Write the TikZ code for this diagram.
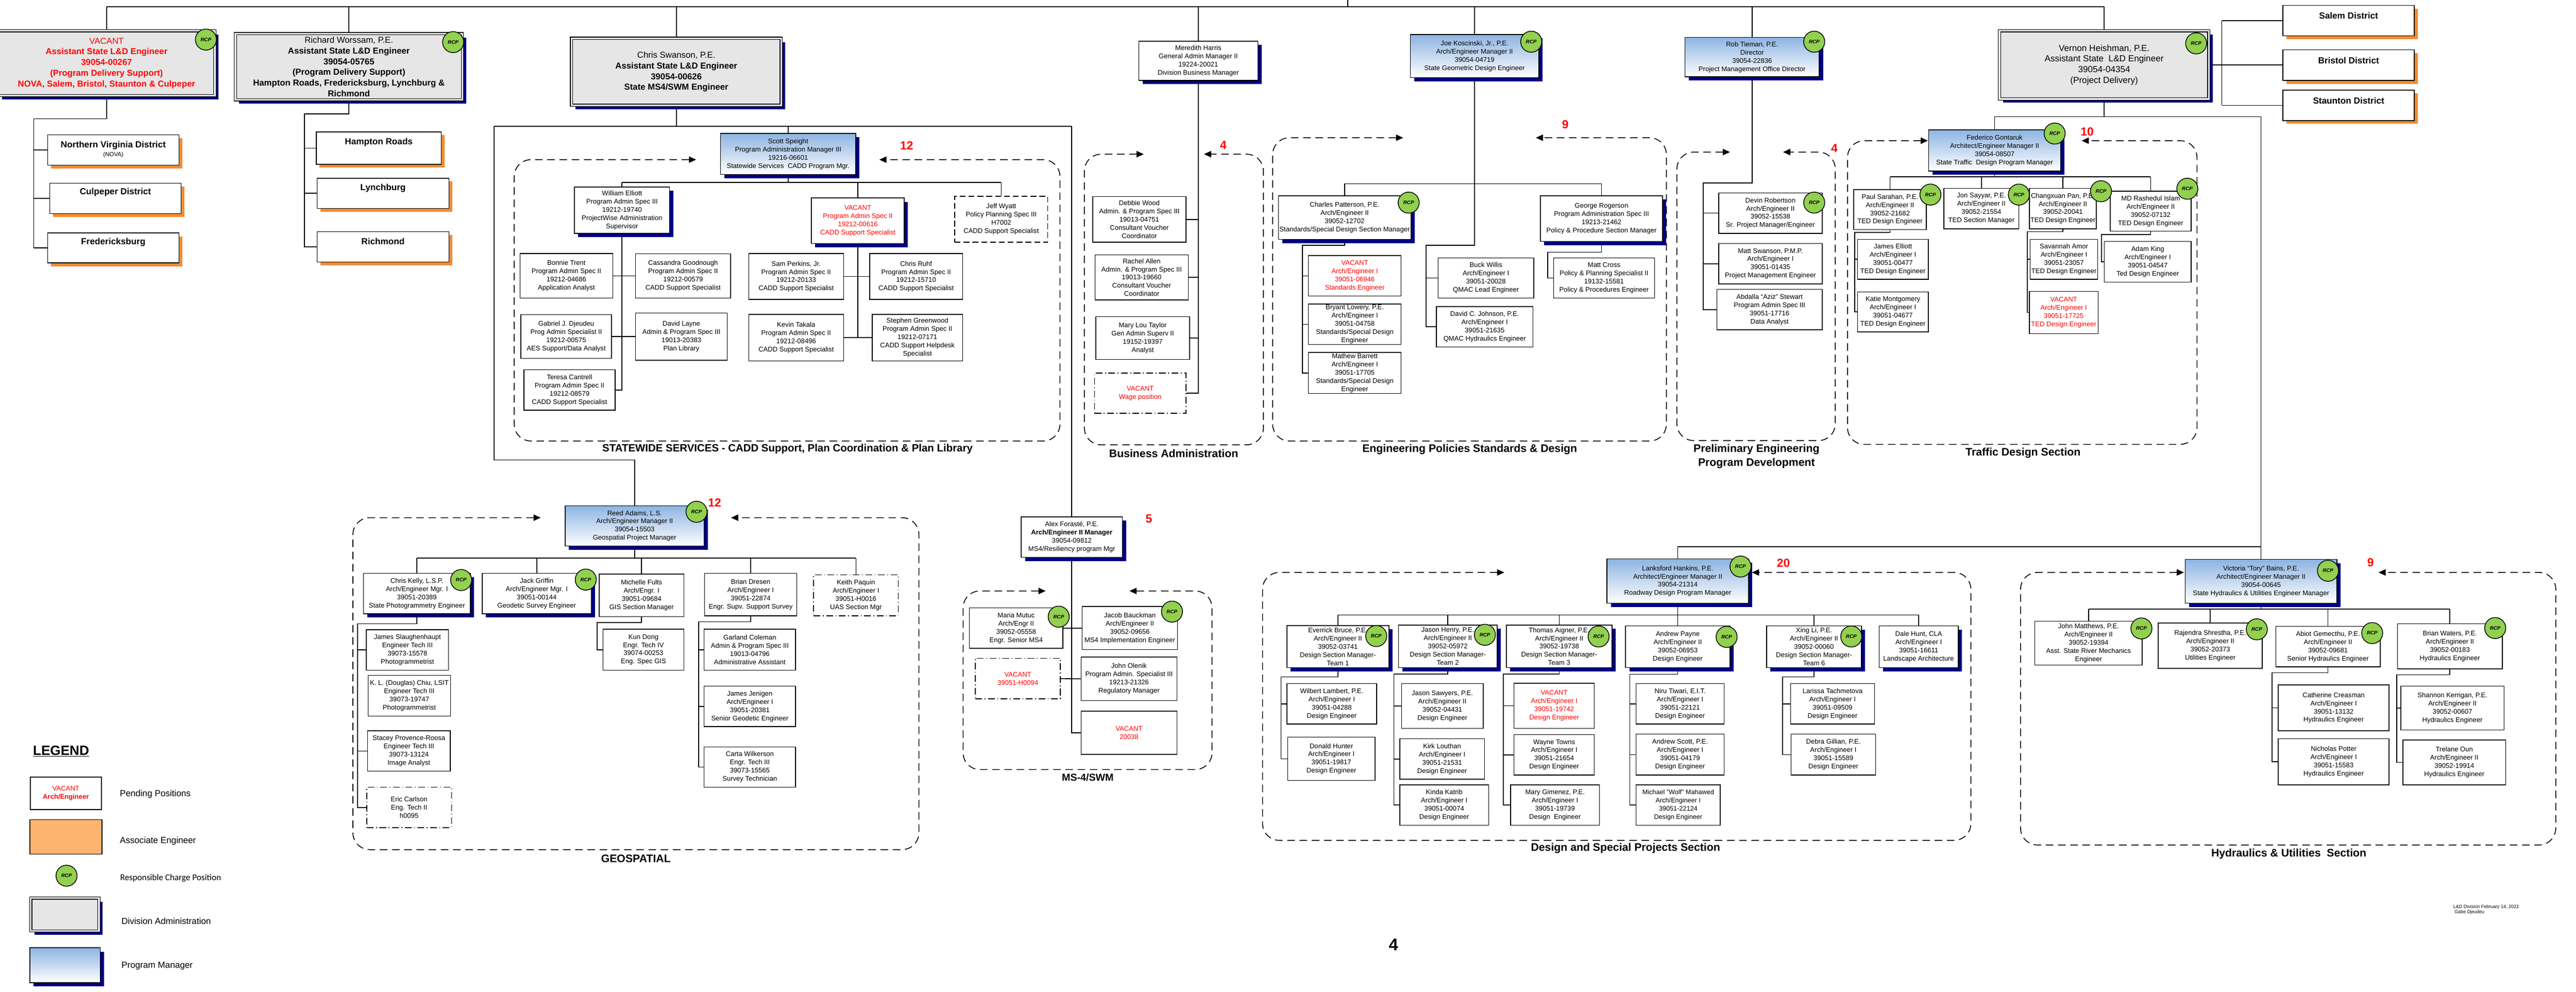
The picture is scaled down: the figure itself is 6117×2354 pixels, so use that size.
\documentclass[tikz,border=0pt]{standalone}
\usepackage{fontspec}
\setmainfont{Liberation Sans}
\newfontfamily\carlfont{Carlito}
\usetikzlibrary{shadows,arrows.meta}
\definecolor{navy}{RGB}{0,0,128}
\definecolor{pmblue}{RGB}{141,180,226}
\definecolor{divgray}{RGB}{230,230,230}
\definecolor{rcpgreen}{RGB}{146,208,80}
\definecolor{distorange}{RGB}{242,140,50}
\definecolor{assocorange}{RGB}{252,180,110}
\definecolor{vred}{RGB}{255,0,0}
\newcommand\fsm{\fontsize{16}{19.5}\selectfont}
\newcommand\fdv{\fontsize{20.5}{25.5}\selectfont}
\pgfdeclarelayer{bg}
\pgfsetlayers{bg,main}
\newcommand\obox[6]{\node[#1,minimum width=#4pt,minimum height=#5pt] (#2) at (#3) {#6};}
\newcommand\rcpat[2]{\node[rcp] (#1) at (#2) {RCP};}
\newcommand\sectframe[6]{\draw[sec] (#5,#2) -- (#1,#2) -- (#1,#4) -- (#3,#4) -- (#3,#2) -- (#6,#2);}
\begin{document}
\begin{tikzpicture}[x=1pt,y=-1pt,
 obox/.style={draw, line width=1.8pt, fill=white, inner sep=0pt, align=center, font=\fsm},
 nshadow/.style={general shadow={fill=navy, shadow xshift=9pt, shadow yshift=-9pt}},
 sbox/.style={obox, nshadow},
 pmbox/.style={obox, top color=pmblue, bottom color=white, nshadow},
 divbox/.style={draw, line width=1.6pt, double=divgray, double distance=4pt, fill=divgray, inner sep=0pt, align=center, font=\fdv, nshadow},
 distbox/.style={draw, line width=2pt, fill=white, inner sep=0pt, general shadow={fill=distorange, shadow xshift=8pt, shadow yshift=-8pt}},
 dbox/.style={obox, dash pattern=on 14pt off 7pt},
 ddbox/.style={obox, dash pattern=on 16pt off 6pt on 2pt off 6pt},
 rcp/.style={circle, draw, line width=1.8pt, fill=rcpgreen, minimum size=50pt, inner sep=0pt, font=\fontsize{12}{12}\selectfont\bfseries\itshape},
 conn/.style={line width=2pt},
 sec/.style={line width=2pt, dash pattern=on 18pt off 11pt, rounded corners=40pt, {Triangle[length=17pt,width=15pt]}-{Triangle[length=17pt,width=15pt]}},
 stitle/.style={font=\fontsize{26}{33}\selectfont\bfseries, align=center},
 num/.style={font=\fontsize{28}{28}\selectfont\bfseries, text=vred},
 vac/.style={text=vred},
 dtext/.style={font=\fontsize{21}{21}\selectfont\bfseries},
 lgtext/.style={font=\fontsize{21}{21}\selectfont, anchor=west}
]
\useasboundingbox (0,0) rectangle (6117,2354);
\begin{pgfonlayer}{bg}
\fill[white] (0,0) rectangle (6117,2354);
\end{pgfonlayer}

% ===== Division administration =====
\obox{divbox,vac,font=\fdv\bfseries}{vacdiv}{253,150}{514}{154}{{\mdseries VACANT}\\Assistant State L\&D Engineer\\39054-00267\\(Program Delivery Support)\\NOVA, Salem, Bristol, Staunton \& Culpeper}
\obox{divbox,font=\fdv\bfseries}{richard}{828.5,158.5}{539}{157}{{\mdseries Richard Worssam, P.E.}\\Assistant State L\&D Engineer\\39054-05765\\(Program Delivery Support)\\Hampton Roads, Fredericksburg, Lynchburg \&\\Richmond}
\obox{divbox,font=\fdv\bfseries}{chris}{1606,170.5}{498}{159}{{\mdseries Chris Swanson, P.E.}\\Assistant State L\&D Engineer\\39054-00626\\State MS4/SWM Engineer}
\obox{divbox,font=\fontsize{21}{25.5}\selectfont}{vernon}{4996.5,154}{497}{162}{Vernon Heishman, P.E.\\Assistant State~ L\&D Engineer\\39054-04354\\(Project Delivery)}

% ===== Districts =====
\obox{distbox}{nova}{269,356}{312}{72}{}
\obox{distbox}{culp}{274,471}{312}{72}{}
\obox{distbox}{fred}{269,588.5}{312}{71}{}
\obox{distbox}{hampton}{899.5,351.5}{297}{77}{}
\obox{distbox}{lynch}{909.5,459}{313}{72}{}
\obox{distbox}{richmond}{909.5,586}{313}{72}{}
\obox{distbox}{salem}{5577,49}{312}{72}{}
\obox{distbox}{bristol}{5577,154.5}{312}{73}{}
\obox{distbox}{staunton}{5577,250}{312}{72}{}
\node[dtext] (novat) at ([yshift=-26pt]nova.north) {Northern Virginia District};
\node[font=\fontsize{14}{14}\selectfont] (novat2) at ([yshift=-49pt]nova.north) {(NOVA)};
\node[dtext] (culpt) at ([yshift=-23pt]culp.north) {Culpeper District};
\node[dtext] (fredt) at ([yshift=-23pt]fred.north) {Fredericksburg};
\node[dtext] (hamptont) at ([yshift=-26pt]hampton.north) {Hampton Roads};
\node[dtext] (lyncht) at ([yshift=-25pt]lynch.north) {Lynchburg};
\node[dtext] (richmondt) at ([yshift=-24pt]richmond.north) {Richmond};
\node[dtext] (salemt) at ([yshift=-25pt]salem.north) {Salem District};
\node[dtext] (bristolt) at ([yshift=-27pt]bristol.north) {Bristol District};
\node[dtext] (stauntont) at ([yshift=-26pt]staunton.north) {Staunton District};

% ===== Statewide services =====
\obox{pmbox}{scott}{1871.5,365.5}{321}{97}{Scott Speight\\Program Administration Manager III\\19216-06601\\Statewide Services~ CADD Program Mgr.}
\obox{sbox}{welliott}{1477,499}{226}{110}{William Elliott\\Program Admin Spec III\\19212-19740\\ProjectWise Administration\\Supervisor}
\obox{obox}{bonnie}{1345,655}{220}{106}{Bonnie Trent\\Program Admin Spec II\\19212-04686\\Application Analyst}
\obox{obox}{cass}{1622,655}{226}{105}{Cassandra Goodnough\\Program Admin Spec II\\19212-00579\\CADD Support Specialist}
\obox{obox}{gabriel}{1344.5,799}{215}{104}{Gabriel J. Djeudeu\\Prog Admin Specialist II\\19212-00575\\AES Support/Data Analyst}
\obox{obox}{dlayne}{1618,799}{218}{112}{David Layne\\Admin \& Program Spec III\\19013-20383\\Plan Library}
\obox{obox}{teresa}{1352.5,926}{217}{96}{Teresa Cantrell\\Program Admin Spec II\\19212-08579\\CADD Support Specialist}
\obox{sbox,vac}{vacpas}{2037,524}{220}{108}{VACANT\\Program Admin Spec II\\19212-00616\\CADD Support Specialist}
\obox{dbox}{jeff}{2377.5,520.5}{221}{109}{Jeff Wyatt\\Policy Planning Spec III\\H7002\\CADD Support Specialist}
\obox{obox}{sam}{1890.5,656.5}{225}{109}{Sam Perkins, Jr.\\Program Admin Spec II\\19212-20133\\CADD Support Specialist}
\obox{obox}{ruhf}{2175.5,656.5}{221}{109}{Chris Ruhf\\Program Admin Spec II\\19212-15710\\CADD Support Specialist}
\obox{obox}{kevin}{1890.5,801.5}{225}{111}{Kevin Takala\\Program Admin Spec II\\19212-08496\\CADD Support Specialist}
\obox{obox}{stephen}{2178.5,801.5}{215}{111}{Stephen Greenwood\\Program Admin Spec II\\19212-07171\\CADD Support Helpdesk\\Specialist}

% ===== Business administration =====
\obox{sbox}{meredith}{2845.5,144.5}{283}{93}{Meredith Harris\\General Admin Manager II\\19224-20021\\Division Business Manager}
\obox{obox}{debbie}{2705.5,521}{221}{108}{Debbie Wood\\Admin. \& Program Spec III\\19013-04751\\Consultant Voucher\\Coordinator}
\obox{obox}{rachel}{2711,658.5}{222}{107}{Rachel Allen\\Admin. \& Program Spec III\\19013-19660\\Consultant Voucher\\Coordinator}
\obox{obox}{marylou}{2713.5,802.5}{223}{101}{Mary Lou Taylor\\Gen Admin Superv II\\19152-19397\\Analyst}
\obox{ddbox,vac}{vacwage}{2707.5,933.5}{217}{95}{VACANT\\Wage position}

% ===== Engineering policies =====
\obox{pmbox}{joe}{3501.5,133}{305}{102}{Joe Koscinski, Jr., P.E.\\Arch/Engineer Manager II\\39054-04719\\State Geometric Design Engineer}
\obox{sbox}{charles}{3193,516.5}{314}{103}{Charles Patterson, P.E.\\Arch/Engineer II\\39052-12702\\Standards/Special Design Section Manager}
\obox{obox,vac}{vaceng}{3217,655}{220}{96}{VACANT\\Arch/Engineer I\\39051-06946\\Standards Engineer}
\obox{obox}{bryant}{3217,770}{220}{96}{Bryant Lowery, P.E.\\Arch/Engineer I\\39051-04758\\Standards/Special Design\\Engineer}
\obox{obox}{mathew}{3217,885.5}{220}{97}{Mathew Barrett\\Arch/Engineer I\\39051-17705\\Standards/Special Design\\Engineer}
\obox{obox}{buck}{3528.5,660}{227}{96}{Buck Willis\\Arch/Engineer I\\39051-20028\\QMAC Lead Engineer}
\obox{obox}{djohnson}{3525.5,776}{229}{96}{David C. Johnson, P.E.\\Arch/Engineer I\\39051-21635\\QMAC Hydraulics Engineer}
\obox{sbox}{george}{3803,519}{290}{108}{George Rogerson\\Program Administration Spec III\\19213-21462\\Policy \& Procedure Section Manager}
\obox{obox}{mcross}{3809,660}{240}{96}{Matt Cross\\Policy \& Planning Specialist II\\19132-15581\\Policy \& Procedures Engineer}

% ===== Preliminary engineering =====
\obox{pmbox}{rob}{4160.5,135.5}{319}{93}{Rob Tieman, P.E.\\Director\\39054-22836\\Project Management Office Director}
\obox{obox}{devin}{4204,506}{246}{96}{Devin Robertson\\Arch/Engineer II\\39052-15538\\Sr. Project Manager/Engineer}
\obox{obox}{mswanson}{4204,626}{246}{96}{Matt Swanson, P.M.P.\\Arch/Engineer I\\39051-01435\\Project Management Engineer}
\obox{obox}{abdalla}{4202,735}{250}{96}{Abdalla “Aziz” Stewart\\Program Admin Spec III\\39051-17716\\Data Analyst}

% ===== Traffic =====
\obox{pmbox}{federico}{4736.5,357}{313}{98}{Federico Gontaruk\\Architect/Engineer Manager II\\39054-08507\\State Traffic~ Design Program Manager}
\obox{obox}{paul}{4488,497.5}{172}{95}{Paul Sarahan, P.E.\\Arch/Engineer II\\39052-21682\\TED Design Engineer}
\obox{obox}{jelliott}{4495,615.5}{168}{95}{James Elliott\\Arch/Engineer I\\39051-00477\\TED Design Engineer}
\obox{obox}{katie}{4495,740.5}{168}{95}{Katie Montgomery\\Arch/Engineer I\\39051-04677\\TED Design Engineer}
\obox{obox}{jon}{4705,495}{178}{96}{Jon Sayyar, P.E.\\Arch/Engineer II\\39052-21554\\TED Section Manager}
\obox{obox}{pan}{4898.5,495}{159}{96}{Changxuan Pan, P.E.\\Arch/Engineer II\\39052-20041\\TED Design Engineer}
\obox{obox}{savannah}{4901,615.5}{160}{95}{Savannah Amor\\Arch/Engineer I\\39051-23057\\TED Design Engineer}
\obox{obox,vac}{vacted}{4900.5,742}{163}{100}{VACANT\\Arch/Engineer I\\39051-17725\\TED Design Engineer}
\obox{obox}{islam}{5107,501.5}{192}{95}{MD Rashedul Islam\\Arch/Engineer II\\39052-07132\\TED Design Engineer}
\obox{obox}{adam}{5100,621.5}{206}{97}{Adam King\\Arch/Engineer I\\39051-04547\\Ted Design Engineer}

% ===== Geospatial =====
\obox{pmbox}{reed}{1507,1248.5}{330}{95}{Reed Adams, L.S.\\Arch/Engineer Manager II\\39054-15503\\Geospatial Project Manager}
\obox{sbox}{ckelly}{990,1409}{254}{96}{Chris Kelly, L.S.P.\\Arch/Engineer Mgr. I\\39051-20389\\State Photogrammetry Engineer}
\obox{sbox}{jgriffin}{1274.5,1409}{259}{96}{Jack Griffin\\Arch/Engineer Mgr. I\\39051-00144\\Geodetic Survey Engineer}
\obox{obox}{mfults}{1523.5,1413.5}{201}{101}{Michelle Fults\\Arch/Engr. I\\39051-09684\\GIS Section Manager}
\obox{obox}{bdresen}{1782.5,1411.5}{219}{101}{Brian Dresen\\Arch/Engineer I\\39051-22874\\Engr. Supv. Support Survey}
\obox{ddbox}{kpaquin}{2032.5,1413.5}{201}{97}{Keith Paquin\\Arch/Engineer I\\39051-H0016\\UAS Section Mgr}
\obox{obox}{jslaugh}{967.5,1543}{195}{96}{James Slaughenhaupt\\Engineer Tech III\\39073-15578\\Photogrammetrist}
\obox{obox}{klchiu}{972,1651.5}{196}{97}{K. L. (Douglas) Chiu, LSIT\\Engineer Tech III\\39073-19747\\Photogrammetrist}
\obox{obox}{stacey}{971,1783}{196}{96}{Stacey Provence-Roosa\\Engineer Tech III\\39073-13124\\Image Analyst}
\obox{ddbox}{ecarlson}{971.5,1917}{201}{96}{Eric Carlson\\Eng. Tech II\\h0095}
\obox{obox}{kundong}{1528,1542.5}{192}{97}{Kun Dong\\Engr. Tech IV\\39074-00253\\Eng. Spec GIS}
\obox{obox}{gcoleman}{1780.5,1542.5}{217}{97}{Garland Coleman\\Admin \& Program Spec III\\19013-04796\\Administrative Assistant}
\obox{obox}{jjenigen}{1780.5,1677}{217}{96}{James Jenigen\\Arch/Engineer I\\39051-20381\\Senior Geodetic Engineer}
\obox{obox}{cwilkerson}{1780.5,1821}{217}{96}{Carta Wilkerson\\Engr. Tech III\\39073-15565\\Survey Technician}

% ===== MS-4 / SWM =====
\obox{sbox}{alex}{2545,1275}{240}{96}{Alex Forasté, P.E.\\\textbf{Arch/Engineer II Manager}\\39054-09812\\MS4/Resiliency program Mgr}
\obox{obox}{maria}{2413,1491}{222}{96}{Maria Mutuc\\Arch/Engr II\\39052-05558\\Engr. Senior MS4}
\obox{obox}{jacob}{2683,1491}{226}{102}{Jacob Bauckman\\Arch/Engineer II\\39052-09656\\MS4 Implementation Engineer}
\obox{ddbox,vac}{vach0094}{2417,1611}{202}{96}{VACANT\\39051-H0094}
\obox{obox}{jolenik}{2681,1611.5}{228}{103}{John Olenik\\Program Admin. Specialist III\\19213-21326\\Regulatory Manager}
\obox{obox,vac}{vac20038}{2681,1739.5}{228}{103}{VACANT\\20038}

% ===== Design and special projects =====
\obox{pmbox}{lanksford}{3984,1379.5}{336}{105}{Lanksford Hankins, P.E.\\Architect/Engineer Manager II\\39054-21314\\Roadway Design Program Manager}
\obox{sbox}{everrick}{3177,1535}{242}{100}{Everrick Bruce, P.E.\\Arch/Engineer II\\39052-03741\\Design Section Manager-\\Team 1}
\obox{sbox}{jhenry}{3438,1534.5}{234}{101}{Jason Henry, P.E.\\Arch/Engineer II\\39052-05972\\Design Section Manager-\\Team 2}
\obox{sbox}{taigner}{3702.5,1534.5}{251}{101}{Thomas Aigner, P.E.\\Arch/Engineer II\\39052-19738\\Design Section Manager-\\Team 3}
\obox{sbox}{apayne}{3984,1535.5}{248}{99}{Andrew Payne\\Arch/Engineer II\\39052-06953\\Design Engineer}
\obox{sbox}{xingli}{4307.5,1535.5}{225}{99}{Xing Li, P.E.\\Arch/Engineer II\\39052-00060\\Design Section Manager-\\Team 6}
\obox{sbox}{dale}{4556,1535.5}{188}{99}{Dale Hunt, CLA\\Arch/Engineer I\\39051-16611\\Landscape Architecture}
\obox{obox}{wlambert}{3162.5,1671}{213}{96}{Wilbert Lambert, P.E.\\Arch/Engineer I\\39051-04288\\Design Engineer}
\obox{obox}{dhunter}{3161.5,1801.5}{207}{103}{Donald Hunter\\Arch/Engineer I\\39051-19817\\Design Engineer}
\obox{obox}{jsawyers}{3425,1676}{194}{106}{Jason Sawyers, P.E.\\Arch/Engineer II\\39052-04431\\Design Engineer}
\obox{obox}{klouthan}{3424.5,1802}{201}{96}{Kirk Louthan\\Arch/Engineer I\\39051-21531\\Design Engineer}
\obox{obox}{kkatrib}{3429.5,1911}{211}{96}{Kinda Katrib\\Arch/Engineer I\\39051-00074\\Design Engineer}
\obox{obox,vac}{vacdes}{3690.5,1675.5}{191}{107}{VACANT\\Arch/Engineer I\\39051-19742\\Design Engineer}
\obox{obox}{wtowns}{3690.5,1792}{191}{96}{Wayne Towns\\Arch/Engineer I\\39051-21654\\Design Engineer}
\obox{obox}{mgimenez}{3692.5,1911}{211}{96}{Mary Gimenez, P.E.\\Arch/Engineer I\\39051-19739\\Design~ Engineer}
\obox{obox}{ntiwari}{3989.5,1671}{209}{96}{Niru Tiwari, E.I.T.\\Arch/Engineer I\\39051-22121\\Design Engineer}
\obox{obox}{ascott}{3989.5,1791.5}{209}{97}{Andrew Scott, P.E.\\Arch/Engineer I\\39051-04179\\Design Engineer}
\obox{obox,font=\fontsize{15.5}{19.5}\selectfont}{mmahawed}{3985,1911}{200}{96}{Michael "Wolf" Mahawed\\Arch/Engineer I\\39051-22124\\Design Engineer}
\obox{obox}{larissa}{4351.5,1671}{199}{96}{Larissa Tachmetova\\Arch/Engineer I\\39051-09509\\Design Engineer}
\obox{obox}{dgillian}{4353.5,1791.5}{201}{97}{Debra Gillian, P.E.\\Arch/Engineer I\\39051-15589\\Design Engineer}

% ===== Hydraulics =====
\obox{pmbox}{victoria}{5369,1380}{360}{104}{Victoria “Tory” Bains, P.E.\\Architect/Engineer Manager II\\39054-00645\\State Hydraulics \& Utilities Engineer Manager}
\obox{obox}{jmatthews}{4959.5,1527}{255}{104}{John Matthews, P.E.\\Arch/Engineer II\\39052-19394\\Asst. State River Mechanics\\Engineer}
\obox{obox}{rajendra}{5248.5,1533}{247}{108}{Rajendra Shrestha, P.E.\\Arch/Engineer II\\39052-20373\\Utilities Engineer}
\obox{obox}{abiot}{5528,1535}{248}{96}{Abiot Gemecthu, P.E.\\Arch/Engineer II\\39052-09681\\Senior Hydraulics Engineer}
\obox{obox}{bwaters}{5817.5,1534.5}{249}{107}{Brian Waters, P.E.\\Arch/Engineer II\\39052-00183\\Hydraulics Engineer}
\obox{obox}{ccreasman}{5541.5,1680.5}{263}{109}{Catherine Creasman\\Arch/Engineer I\\39051-13132\\Hydraulics Engineer}
\obox{obox}{npotter}{5541.5,1808.5}{263}{109}{Nicholas Potter\\Arch/Engineer I\\39051-15583\\Hydraulics Engineer}
\obox{obox}{skerrigan}{5823.5,1681}{245}{104}{Shannon Kerrigan, P.E.\\Arch/Engineer II\\39052-00607\\Hydraulics Engineer}
\obox{obox}{toun}{5828,1810}{244}{106}{Trelane Oun\\Arch/Engineer II\\39052-19914\\Hydraulics Engineer}

% ===== RCP markers =====
\rcpat{r1}{489,94}
\rcpat{r2}{1076,100}
\rcpat{r3}{5215,103}
\rcpat{r4}{3636,99}
\rcpat{r5}{3345,481}
\rcpat{r6}{4308,99}
\rcpat{r7}{4308,481}
\rcpat{r8}{4879,317}
\rcpat{r9}{4584,462}
\rcpat{r10}{4794,462}
\rcpat{r11}{4989,454}
\rcpat{r12}{5194,448}
\rcpat{r13}{1654,1215}
\rcpat{r14}{1095,1377}
\rcpat{r15}{1391,1376}
\rcpat{r16}{2514,1464}
\rcpat{r17}{2783,1452}
\rcpat{r18}{4133,1345}
\rcpat{r19}{3268,1510}
\rcpat{r20}{3526,1507}
\rcpat{r21}{3796,1511}
\rcpat{r22}{4100,1512}
\rcpat{r23}{4396,1511}
\rcpat{r24}{5528,1355}
\rcpat{r25}{5085,1492}
\rcpat{r26}{5359,1494}
\rcpat{r27}{5633,1503}
\rcpat{r28}{5925,1491}

% ===== Section titles and counts =====
\node[stitle,font=\fontsize{25}{30}\selectfont\bfseries] (t1) at (1870,1066) {STATEWIDE SERVICES - CADD Support, Plan Coordination \& Plan Library};
\node[stitle] (t2) at (2787,1077) {Business Administration};
\node[stitle] (t3) at (3490,1067) {Engineering Policies Standards \& Design};
\node[stitle] (t4) at (4171,1083) {Preliminary Engineering\\Program Development};
\node[stitle] (t5) at (4804,1075) {Traffic Design Section};
\node[stitle] (t6) at (1510,2038) {GEOSPATIAL};
\node[stitle,font=\fontsize{24}{30}\selectfont\bfseries] (t7) at (2583,1846) {MS-4/SWM};
\node[stitle] (t8) at (3860,2014) {Design and Special Projects Section};
\node[stitle] (t9) at (5435,2027) {Hydraulics \& Utilities~ Section};
\node[num] (n1) at (2153,346) {12};
\node[num] (n2) at (2905,344) {4};
\node[num] (n3) at (3717,296) {9};
\node[num] (n4) at (4356,352) {4};
\node[num] (n5) at (4956,313) {10};
\node[num] (n6) at (1697,1193) {12};
\node[num] (n7) at (2728,1232) {5};
\node[num] (n8) at (4235,1337) {20};
\node[num] (n9) at (5629,1336) {9};

% ===== Legend =====
\node[font=\fontsize{32}{32}\selectfont\bfseries] (lg) at (145,1783) {\underline{LEGEND}};
\obox{obox,vac}{lgpend}{156.5,1883.5}{169}{77}{VACANT\\{\bfseries Arch/Engineer}}
\obox{obox,fill=assocorange}{lgassoc}{156.5,1987}{171}{82}{}
\rcpat{lgrcp}{158,2079}
\obox{divbox}{lgdiv}{154,2171}{162}{78}{}
\obox{pmbox}{lgpm}{154.5,2291.5}{167}{83}{}
\node[lgtext] (lt1) at (281,1885) {Pending Positions};
\node[lgtext] (lt2) at (281,1997) {Associate Engineer};
\node[lgtext,font=\carlfont\fontsize{21}{21}\selectfont] (lt3) at (282,2085) {Responsible Charge Position};
\node[lgtext] (lt4) at (285,2187) {Division Administration};
\node[lgtext] (lt5) at (285,2293) {Program Manager};

% ===== Footer =====
\node[anchor=west,font=\fontsize{11}{11}\selectfont] (ft1) at (5822,2153) {L\&D Division February 14, 2022};
\node[anchor=west,font=\fontsize{11}{11}\selectfont] (ft2) at (5825,2166) {Gabe Djeudeu};
\node[font=\fontsize{40}{40}\selectfont\bfseries] (pg) at (3309,2243) {4};

% ===== Connectors and section frames (behind) =====
\begin{pgfonlayer}{bg}
\sectframe{1221}{379}{2517}{1047}{1653}{2088}
\sectframe{2575}{366}{3000}{1056}{2716}{2859}
\sectframe{3022}{327}{3957}{1047}{3332}{3647}
\sectframe{3982}{361}{4358}{1046}{4108}{4234}
\sectframe{4387}{334}{5217}{1055}{4578}{4943}
\sectframe{838}{1229}{2182}{2017}{1284}{1736}
\sectframe{2287}{1403}{2878}{1827}{2483}{2682}
\sectframe{2998}{1359}{4680}{1995}{3572}{4160}
\sectframe{4798}{1359}{6069}{2006}{5186}{5648}

% top bar
\coordinate (topbar) at (0,16);
\coordinate (upstub) at (3200,0);
\draw[conn] (vacdiv.north |- topbar) -- (vernon.north |- topbar);
\draw[conn] (upstub) -- (upstub |- topbar);
\foreach \n in {vacdiv,richard,chris,meredith,joe,rob,vernon}
  \draw[conn] (\n.north) -- (\n.north |- topbar);

% districts
\coordinate (dsp1) at (80,282);
\draw[conn] (vacdiv.south) |- (dsp1) |- (nova.west);
\draw[conn] (dsp1) |- (culp.west);
\draw[conn] (dsp1) |- (fred.west);
\coordinate (dsp2) at (723,270);
\draw[conn] (richard.south) |- (dsp2) |- (hampton.west);
\draw[conn] (dsp2) |- (lynch.west);
\draw[conn] (dsp2) |- (richmond.west);
\coordinate (dsp3) at (5276,0);
\draw[line width=3pt] (vernon.east) -- (vernon.east -| dsp3);
\draw[conn] (salem.west -| dsp3) -- (staunton.west -| dsp3);
\foreach \n in {salem,bristol,staunton}
  \draw[conn] (\n.west) -- (\n.west -| dsp3);

% Chris Swanson group
\coordinate (cL) at (1173,300);
\coordinate (cR) at (2545,300);
\draw[conn] (cL) -- (cR);
\draw[line width=3pt] (chris.south) -- (chris.south |- cL);
\draw[conn] (scott.north) -- (scott.north |- cL);
\coordinate (gbar) at (1173,1092);
\draw[conn] (cL) -- (gbar) -| (reed.north);
\draw[conn] (cR) -- (alex.north);

% statewide
\coordinate (sbar) at (0,433);
\draw[conn] (scott.south) -- (scott.south |- sbar);
\draw[conn] (welliott.north |- sbar) -- (jeff.north |- sbar);
\foreach \n in {welliott,vacpas,jeff}
  \draw[conn] (\n.north) -- (\n.north |- sbar);
\draw[line width=2.5pt] (welliott.south) |- (teresa.east);
\draw[conn] (bonnie.east) -- (cass.west);
\draw[conn] (gabriel.east) -- (dlayne.west);
\draw[line width=2.5pt] (vacpas.south) -- (vacpas.south |- kevin.east);
\draw[conn] (sam.east) -- (ruhf.west);
\draw[conn] (kevin.east) -- (stephen.west);

% business
\draw[line width=3pt] (meredith.south) |- (vacwage.east);
\foreach \n in {debbie,rachel,marylou}
  \draw[conn] (\n.east) -- (\n.east -| meredith.south);

% engineering policies
\coordinate (ebar) at (0,436);
\draw[conn] (charles.north) -- (charles.north |- ebar) -- (george.north |- ebar) -- (george.north);
\coordinate (espine) at (3386,582);
\draw[line width=2.5pt] (joe.south) |- (espine) |- (djohnson.west);
\draw[conn] (espine |- buck.west) -- (buck.west);
\coordinate (cspine) at (3093,582);
\draw[conn] (charles.south) |- (cspine) |- (mathew.west);
\draw[conn] (cspine |- vaceng.west) -- (vaceng.west);
\draw[conn] (cspine |- bryant.west) -- (bryant.west);
\coordinate (gspine) at (3675,599);
\draw[conn] (george.south) |- (gspine) |- (mcross.west);

% preliminary engineering
\coordinate (rspine) at (4045,434);
\draw[line width=2.5pt] (rob.south) |- (rspine) |- (abdalla.west);
\draw[conn] (rspine |- devin.west) -- (devin.west);
\draw[conn] (rspine |- mswanson.west) -- (mswanson.west);

% traffic and hydraulics link
\coordinate (vbar) at (0,277);
\draw[conn] (vernon.south) -- (vernon.south |- vbar);
\draw[conn] (federico.north) -- (federico.north |- vbar) -| (victoria.north);
\coordinate (lbar) at (0,1298);
\draw[conn] (lanksford.north) -- (lanksford.north |- lbar) -- (victoria.north |- lbar);
\coordinate (tbar) at (0,420);
\draw[conn] (federico.south) -- (federico.south |- tbar);
\draw[conn] (paul.north |- tbar) -- (islam.north |- tbar);
\foreach \n in {paul,jon,pan,islam}
  \draw[conn] (\n.north) -- (\n.north |- tbar);
\coordinate (pspine) at (4404,552);
\draw[conn] (paul.south) |- (pspine) |- (katie.west);
\draw[conn] (pspine |- jelliott.west) -- (jelliott.west);
\coordinate (pnspine) at (4814,550);
\draw[conn] (pan.south) |- (pnspine) |- (vacted.west);
\draw[conn] (pnspine |- savannah.west) -- (savannah.west);
\coordinate (ispine) at (4990,557);
\draw[conn] (islam.south) |- (ispine) |- (adam.west);

% geospatial
\coordinate (gebar) at (0,1325);
\draw[conn] (reed.south) -- (reed.south |- gebar);
\draw[conn] (ckelly.north |- gebar) -- (kpaquin.north |- gebar);
\foreach \n in {ckelly,jgriffin,mfults,bdresen,kpaquin}
  \draw[conn] (\n.north) -- (\n.north |- gebar);
\coordinate (cksp) at (849,1481);
\draw[conn] (ckelly.south) |- (cksp) |- (ecarlson.west);
\draw[conn] (cksp |- jslaugh.west) -- (jslaugh.west);
\draw[conn] (cksp |- stacey.west) -- (stacey.west);
\coordinate (mfsp) at (1418,1478);
\draw[conn] (mfults.south) |- (mfsp) |- (kundong.west);
\coordinate (bdsp) at (1659,1476);
\draw[conn] (bdresen.south) |- (bdsp) |- (cwilkerson.west);
\draw[conn] (bdsp |- gcoleman.west) -- (gcoleman.west);
\draw[conn] (bdsp |- jjenigen.west) -- (jjenigen.west);

% MS4
\draw[line width=2.5pt] (alex.south) |- (vac20038.west);
\draw[conn] (maria.east) -- (jacob.west);
\draw[conn] (vach0094.east) -- (jolenik.west);

% design
\coordinate (dbar) at (0,1460);
\draw[conn] (lanksford.south) -- (lanksford.south |- dbar);
\draw[conn] (everrick.north |- dbar) -- (dale.north |- dbar);
\foreach \n in {everrick,jhenry,taigner,apayne,xingli,dale}
  \draw[conn] (\n.north) -- (\n.north |- dbar);
\coordinate (evsp) at (3042,1607);
\draw[conn] (everrick.south) |- (evsp) |- (dhunter.west);
\draw[conn] (evsp |- wlambert.west) -- (wlambert.west);
\coordinate (jhsp) at (3310,1600);
\draw[conn] (jhenry.south) |- (jhsp) |- (kkatrib.west);
\draw[conn] (jhsp |- jsawyers.west) -- (jsawyers.west);
\draw[conn] (jhsp |- klouthan.west) -- (klouthan.west);
\coordinate (tasp) at (3570,1600);
\draw[conn] (taigner.south) |- (tasp) |- (mgimenez.west);
\draw[conn] (tasp |- vacdes.west) -- (vacdes.west);
\draw[conn] (tasp |- wtowns.west) -- (wtowns.west);
\coordinate (apsp) at (3870,1601);
\draw[conn] (apayne.south) |- (apsp) |- (mmahawed.west);
\draw[conn] (apsp |- ntiwari.west) -- (ntiwari.west);
\draw[conn] (apsp |- ascott.west) -- (ascott.west);
\coordinate (xlsp) at (4233,1607);
\draw[conn] (xingli.south) |- (xlsp) |- (dgillian.west);
\draw[conn] (xlsp |- larissa.west) -- (larissa.west);

% hydraulics
\coordinate (hbar) at (0,1446);
\draw[conn] (victoria.south) -- (victoria.south |- hbar);
\draw[conn] (jmatthews.north |- hbar) -- (bwaters.north |- hbar);
\foreach \n in {jmatthews,rajendra,abiot,bwaters}
  \draw[conn] (\n.north) -- (\n.north |- hbar);
\coordinate (absp) at (5395,1597);
\draw[conn] (abiot.south) |- (absp) |- (npotter.west);
\draw[conn] (absp |- ccreasman.west) -- (ccreasman.west);
\coordinate (bwsp) at (5691,1602);
\draw[conn] (bwaters.south) |- (bwsp) |- (toun.west);
\draw[conn] (bwsp |- skerrigan.west) -- (skerrigan.west);
\end{pgfonlayer}
\end{tikzpicture}
\end{document}
